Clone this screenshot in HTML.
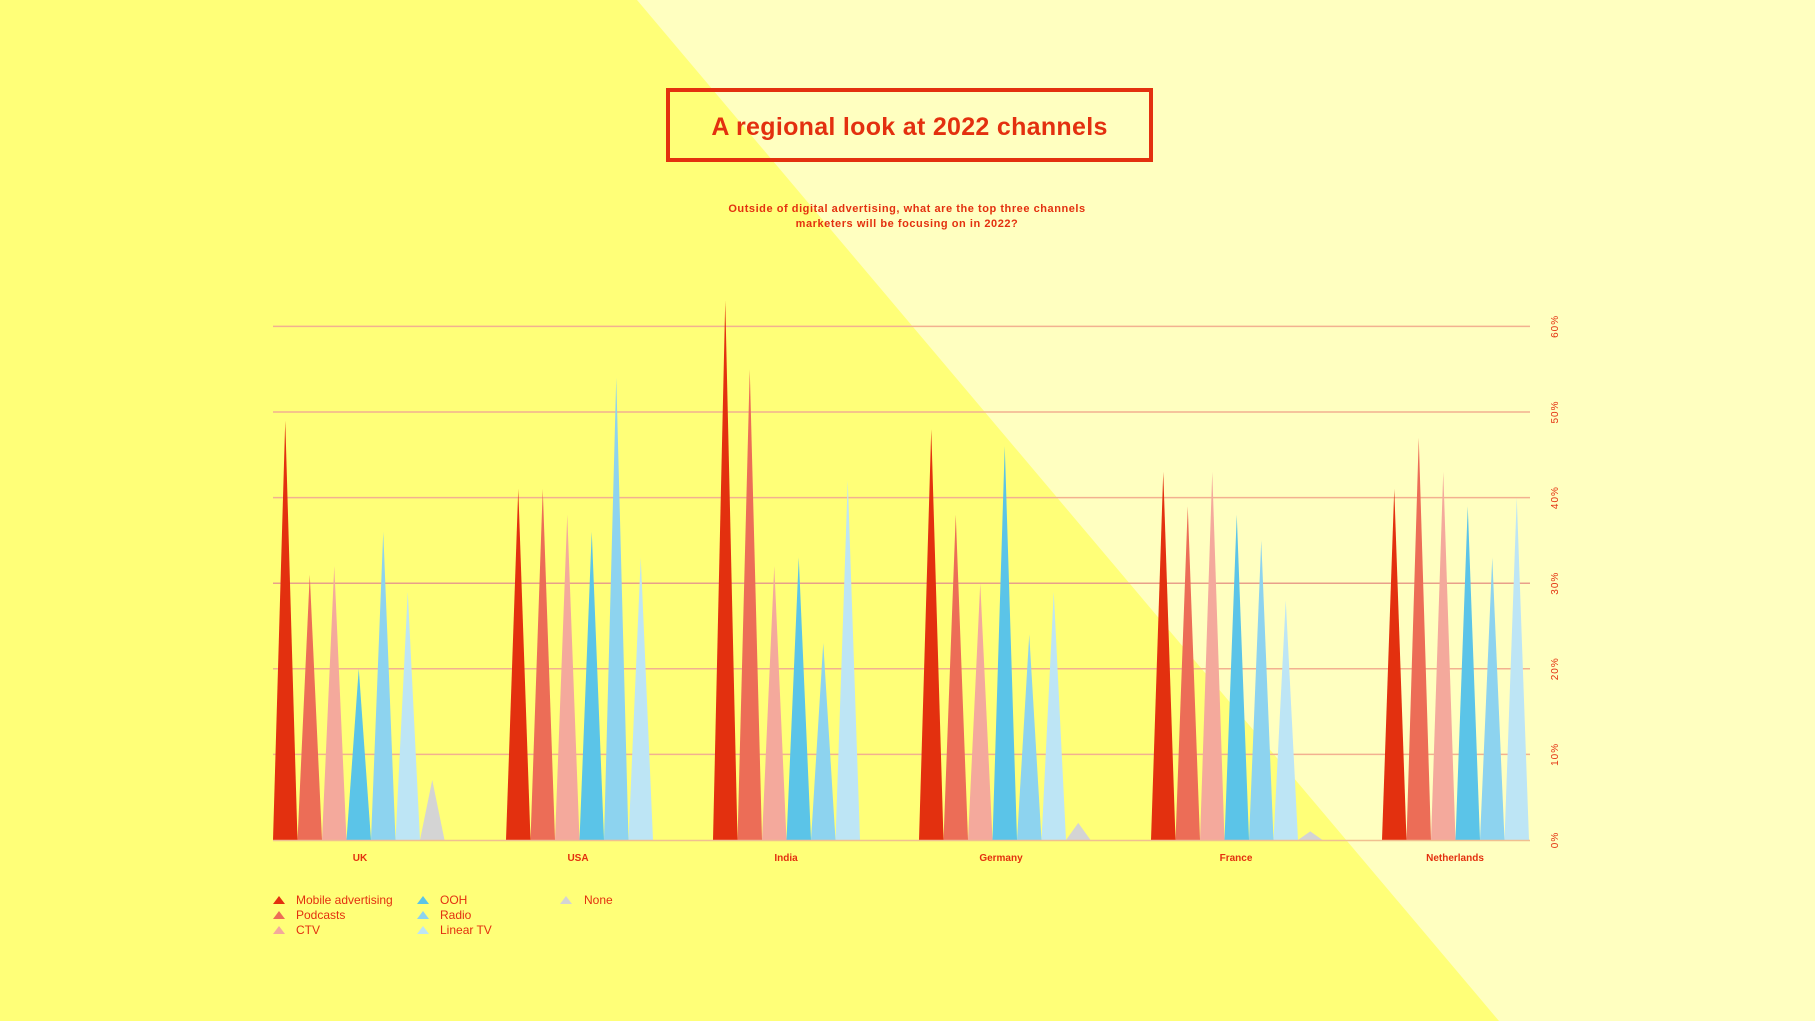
<!DOCTYPE html>
<html><head><meta charset="utf-8"><style>
html,body{margin:0;padding:0;width:1815px;height:1021px;overflow:hidden;background:#ffff78}
svg{display:block}
text{font-family:"Liberation Sans",sans-serif}
</style></head><body>
<svg width="1815" height="1021" viewBox="0 0 1815 1021" xmlns="http://www.w3.org/2000/svg">
<rect width="1815" height="1021" fill="#ffff78"/>
<polygon points="637,0 1815,0 1815,1021 1499,1021" fill="#ffffc0"/>
<rect x="668" y="90" width="483" height="70" fill="none" stroke="#e3300f" stroke-width="4"/>
<text x="909.5" y="135" text-anchor="middle" font-size="25" font-weight="bold" fill="#e3300f" letter-spacing="0.3">A regional look at 2022 channels</text>
<text x="907" y="212" text-anchor="middle" font-size="11" font-weight="bold" fill="#e3300f" letter-spacing="0.55">Outside of digital advertising, what are the top three channels</text>
<text x="907" y="227" text-anchor="middle" font-size="11" font-weight="bold" fill="#e3300f" letter-spacing="0.55">marketers will be focusing on in 2022?</text>
<g stroke="#f2b190" stroke-width="1.5">
<line x1="273" x2="1530" y1="326.4" y2="326.4"/>
<line x1="273" x2="1530" y1="412" y2="412"/>
<line x1="273" x2="1530" y1="497.6" y2="497.6"/>
<line x1="273" x2="1530" y1="583.2" y2="583.2" stroke="#e8a08a"/>
<line x1="273" x2="1530" y1="668.8" y2="668.8"/>
<line x1="273" x2="1530" y1="754.4" y2="754.4"/>
</g>
<g>
<polygon fill="#e3300f" points="273,840 285.25,420.6 297.5,840"/>
<polygon fill="#ec6d57" points="297.5,840 309.75,574.6 322,840"/>
<polygon fill="#f4a99c" points="322,840 334.25,566 346.5,840"/>
<polygon fill="#5bc4e8" points="346.5,840 358.75,668.8 371,840"/>
<polygon fill="#8dd3ef" points="371,840 383.25,531.8 395.5,840"/>
<polygon fill="#bde5f5" points="395.5,840 407.75,591.8 420,840"/>
<polygon fill="#d4d4d4" points="420,840 432.25,780 444.5,840"/>

<polygon fill="#e3300f" points="506,840 518.25,489 530.5,840"/>
<polygon fill="#ec6d57" points="530.5,840 542.75,489 555,840"/>
<polygon fill="#f4a99c" points="555,840 567.25,514.7 579.5,840"/>
<polygon fill="#5bc4e8" points="579.5,840 591.75,531.8 604,840"/>
<polygon fill="#8dd3ef" points="604,840 616.25,377.8 628.5,840"/>
<polygon fill="#bde5f5" points="628.5,840 640.75,557.5 653,840"/>

<polygon fill="#e3300f" points="713,840 725.25,300.7 737.5,840"/>
<polygon fill="#ec6d57" points="737.5,840 749.75,369.2 762,840"/>
<polygon fill="#f4a99c" points="762,840 774.25,566 786.5,840"/>
<polygon fill="#5bc4e8" points="786.5,840 798.75,557.5 811,840"/>
<polygon fill="#8dd3ef" points="811,840 823.25,643.1 835.5,840"/>
<polygon fill="#bde5f5" points="835.5,840 847.75,480.5 860,840"/>

<polygon fill="#e3300f" points="919,840 931.25,429.1 943.5,840"/>
<polygon fill="#ec6d57" points="943.5,840 955.75,514.7 968,840"/>
<polygon fill="#f4a99c" points="968,840 980.25,583.2 992.5,840"/>
<polygon fill="#5bc4e8" points="992.5,840 1004.75,446.2 1017,840"/>
<polygon fill="#8dd3ef" points="1017,840 1029.25,634.6 1041.5,840"/>
<polygon fill="#bde5f5" points="1041.5,840 1053.75,591.8 1066,840"/>
<polygon fill="#d4d4d4" points="1066,840 1078.25,822.9 1090.5,840"/>

<polygon fill="#e3300f" points="1151,840 1163.25,471.9 1175.5,840"/>
<polygon fill="#ec6d57" points="1175.5,840 1187.75,506.2 1200,840"/>
<polygon fill="#f4a99c" points="1200,840 1212.25,471.9 1224.5,840"/>
<polygon fill="#5bc4e8" points="1224.5,840 1236.75,514.7 1249,840"/>
<polygon fill="#8dd3ef" points="1249,840 1261.25,540.4 1273.5,840"/>
<polygon fill="#bde5f5" points="1273.5,840 1285.75,600.3 1298,840"/>
<polygon fill="#d4d4d4" points="1298,840 1310.25,831.4 1322.5,840"/>

<polygon fill="#e3300f" points="1382,840 1394.25,489 1406.5,840"/>
<polygon fill="#ec6d57" points="1406.5,840 1418.75,437.7 1431,840"/>
<polygon fill="#f4a99c" points="1431,840 1443.25,471.9 1455.5,840"/>
<polygon fill="#5bc4e8" points="1455.5,840 1467.75,506.2 1480,840"/>
<polygon fill="#8dd3ef" points="1480,840 1492.25,557.5 1504.5,840"/>
<polygon fill="#bde5f5" points="1504.5,840 1516.75,497.6 1529,840"/>
</g>
<line x1="273" x2="1530" y1="840.5" y2="840.5" stroke="#f0c090" stroke-width="1.5"/>
<g font-size="10" font-weight="bold" fill="#e3300f" text-anchor="middle">
<text x="360" y="861">UK</text>
<text x="578" y="861">USA</text>
<text x="786" y="861">India</text>
<text x="1001" y="861">Germany</text>
<text x="1236" y="861">France</text>
<text x="1455" y="861">Netherlands</text>
</g>
<g font-size="10" fill="#e3300f" text-anchor="middle" letter-spacing="1">
<text transform="translate(1558,326.4) rotate(-90)">60%</text>
<text transform="translate(1558,412) rotate(-90)">50%</text>
<text transform="translate(1558,497.6) rotate(-90)">40%</text>
<text transform="translate(1558,583.2) rotate(-90)">30%</text>
<text transform="translate(1558,668.8) rotate(-90)">20%</text>
<text transform="translate(1558,754.4) rotate(-90)">10%</text>
<text transform="translate(1558,840) rotate(-90)">0%</text>
</g>
<g font-size="12" fill="#e3300f">
<polygon fill="#e3300f" points="273,904 279,896 285,904"/><text x="296" y="904">Mobile advertising</text>
<polygon fill="#ec6d57" points="273,919 279,911 285,919"/><text x="296" y="919">Podcasts</text>
<polygon fill="#f4a99c" points="273,934 279,926 285,934"/><text x="296" y="934">CTV</text>
<polygon fill="#5bc4e8" points="417,904 423,896 429,904"/><text x="440" y="904">OOH</text>
<polygon fill="#8dd3ef" points="417,919 423,911 429,919"/><text x="440" y="919">Radio</text>
<polygon fill="#bde5f5" points="417,934 423,926 429,934"/><text x="440" y="934">Linear TV</text>
<polygon fill="#d4d4d4" points="560,904 566,896 572,904"/><text x="584" y="904">None</text>
</g>
</svg>
</body></html>
